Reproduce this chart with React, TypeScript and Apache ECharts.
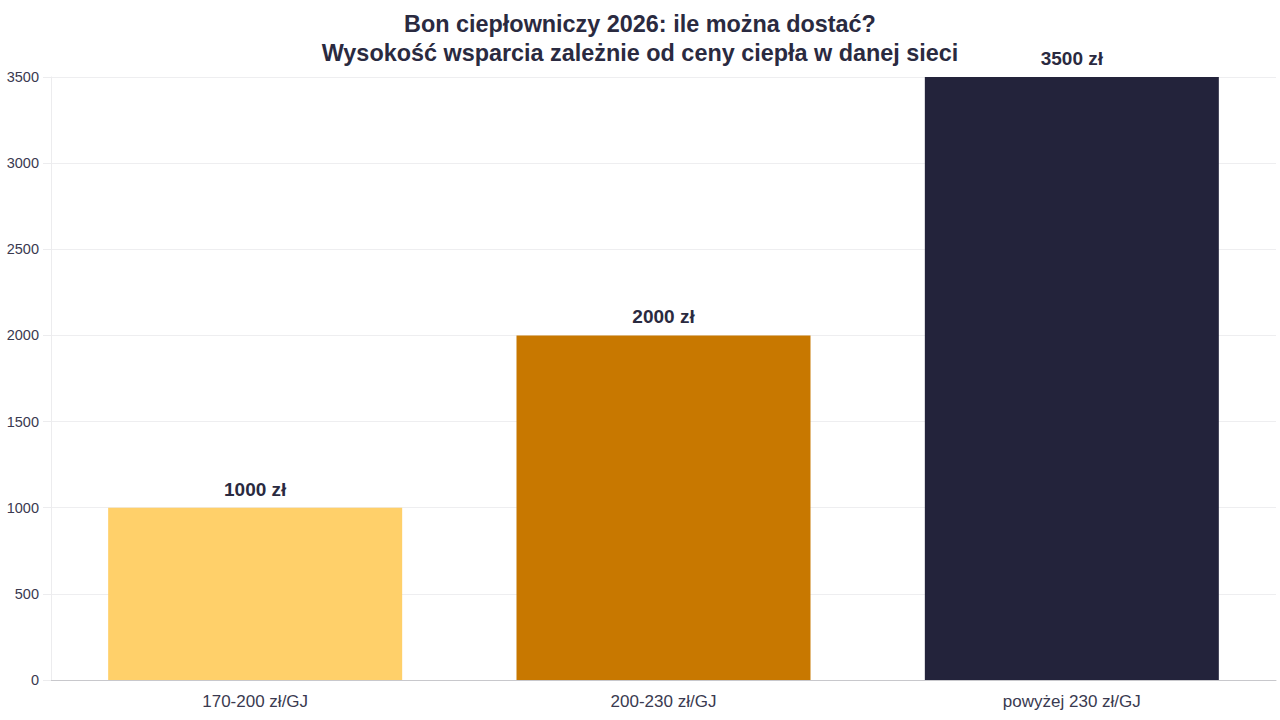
import React, { useEffect, useRef } from "react";
import * as echarts from "echarts";

const categories = ["170-200 zł/GJ", "200-230 zł/GJ", "powyżej 230 zł/GJ"];
const values = [1000, 2000, 3500];
const barColors = ["#FFD06A", "#C87800", "#23233B"];
const yTicks = [0, 500, 1000, 1500, 2000, 2500, 3000, 3500];
const titleText = "Bon ciepłowniczy 2026: ile można dostać?\nWysokość wsparcia zależnie od ceny ciepła w danej sieci";

export default function App() {
  const ref = useRef<HTMLDivElement>(null);
  useEffect(() => {
    if (!ref.current) return;
    const chart = echarts.init(ref.current, undefined, { renderer: "svg" });
    const font = "'Liberation Sans', Arial, sans-serif";
    chart.setOption({
      animation: false,
      backgroundColor: "#ffffff",
      textStyle: { fontFamily: font },
      title: {
        text: titleText,
        left: "center",
        top: 4,
        textStyle: {
          fontFamily: font,
          fontSize: 23.4,
          fontWeight: "bold",
          color: "#2A2A40",
          lineHeight: 29,
        },
      },
      grid: { left: 51, right: 4, top: 77, bottom: 40, containLabel: false },
      xAxis: {
        type: "category",
        data: categories,
        axisLine: { show: true, lineStyle: { color: "#C8C8CC", width: 1 } },
        axisTick: { show: false },
        axisLabel: { fontSize: 17, color: "#3A3A50", margin: 13, fontFamily: font },
        splitLine: { show: false },
      },
      yAxis: {
        type: "value",
        min: yTicks[0],
        max: yTicks[yTicks.length - 1],
        interval: 500,
        axisLine: { show: true, lineStyle: { color: "#ECECEE", width: 1 } },
        axisTick: { show: true, length: 8, lineStyle: { color: "#ECECEE" } },
        axisLabel: {
          fontSize: 14.5,
          color: "#3A3A50",
          margin: 12,
          fontFamily: font,
          formatter: (v: number) => String(v),
        },
        splitLine: { show: true, lineStyle: { color: "#EEEEF0", width: 1 } },
      },
      series: [
        {
          type: "bar",
          barWidth: "72%",
          data: values.map((v, i) => ({
            value: v,
            itemStyle: { color: barColors[i] },
          })),
          label: {
            show: true,
            position: "top",
            distance: 9,
            formatter: (p: any) => `${p.value} zł`,
            fontSize: 19,
            fontWeight: "bold",
            color: "#2A2A40",
            fontFamily: font,
          },
        },
      ],
    });
    return () => chart.dispose();
  }, []);
  return (
    <div
      ref={ref}
      style={{ position: "absolute", left: 0, top: 0, width: 1280, height: 720 }}
    />
  );
}
